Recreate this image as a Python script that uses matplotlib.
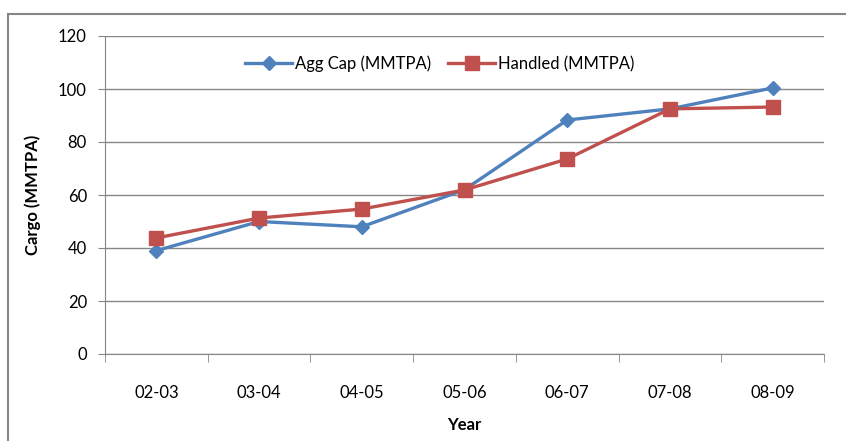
import matplotlib
matplotlib.use("Agg")
import matplotlib.pyplot as plt
from matplotlib.patches import Rectangle

years = ['02-03', '03-04', '04-05', '05-06', '06-07', '07-08', '08-09']
agg_cap = [39, 50, 48, 62, 88.3, 92.5, 100.4]
handled = [43.8, 51.3, 54.7, 61.9, 73.6, 92.5, 93.2]

plt.rcParams['font.family'] = ['Lato', 'DejaVu Sans']
grey = '#868686'

fig = plt.figure(figsize=(8.46, 4.41), dpi=100)
ax = fig.add_axes([105 / 846, 1 - 354 / 441, 719 / 846, 318 / 441])

x = list(range(len(years)))
ax.plot(x, agg_cap, color='#4F81BD', lw=2.4, marker='D', markersize=7,
        label='Agg Cap (MMTPA)', zorder=3)
ax.plot(x, handled, color='#C0504D', lw=2.4, marker='s', markersize=10,
        label='Handled (MMTPA)', zorder=3)

ax.set_xlim(-0.5, len(years) - 0.5)
ax.set_ylim(0, 120)
ax.set_yticks(range(0, 121, 20))
ax.set_xticks(x)
ax.set_xticklabels(years, fontsize=12)
ax.set_xticks([i - 0.5 for i in range(len(years) + 1)], minor=True)
ax.tick_params(axis='x', which='major', length=0, pad=22)
ax.tick_params(axis='x', which='minor', length=6, color=grey)
ax.tick_params(axis='y', length=5, color=grey, labelsize=12, pad=8)
ax.grid(axis='y', color=grey, lw=1)
ax.set_axisbelow(True)
for s in ['top', 'right']:
    ax.spines[s].set_visible(False)
for s in ['left', 'bottom']:
    ax.spines[s].set_color(grey)

ax.set_ylabel('Cargo (MMTPA)', fontsize=12, fontweight='bold', labelpad=12)
ax.set_xlabel('Year', fontsize=12, fontweight='bold', labelpad=12)

ax.legend(loc='upper center', bbox_to_anchor=(0.466, 0.985), ncol=2, frameon=False,
          fontsize=12, handlelength=2.8, columnspacing=1.0, handletextpad=0.2)

fig.patches.append(Rectangle((8 / 846, -0.1), 1.0, 1 - 14 / 441 + 0.1,
                             transform=fig.transFigure, fill=False,
                             edgecolor=grey, lw=1.5))

fig.savefig('out.png', dpi=100)
